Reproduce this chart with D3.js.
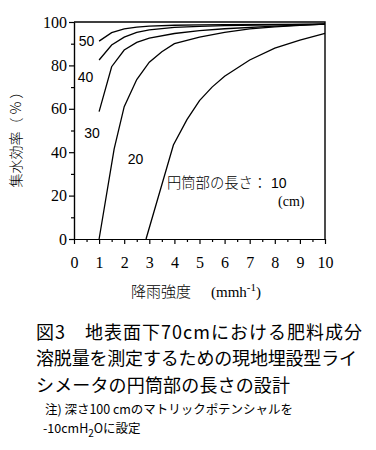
<!DOCTYPE html>
<html>
<head>
<meta charset="utf-8">
<script src="https://cdn.jsdelivr.net/npm/d3@7"></script>
<style>
  body { margin: 0; background: #fff; }
  svg { display: block; }
</style>
</head>
<body>
<script>
// 円筒部の長さ (cm) ごとの集水効率
let len50X = [1, 1.5, 2, 2.5, 3, 4, 5, 6, 8, 10]
let len50Y = [91.2, 95.1, 96.8, 97.6, 98.1, 98.5, 98.7, 98.8, 98.9, 99.0]
let len40X = [1, 1.5, 2, 2.5, 3, 4, 5, 6, 8, 10]
let len40Y = [82.5, 89.4, 93.0, 95.2, 96.4, 97.5, 98.0, 98.3, 98.7, 99.0]
let len30X = [1, 1.5, 2, 2.5, 3, 4, 5, 6, 8, 10]
let len30Y = [58.7, 79.4, 87.1, 90.6, 92.6, 94.7, 96.0, 96.9, 98.1, 99.0]
let len20X = [1, 1.6, 2, 2.5, 3, 3.5, 4, 5, 6, 7, 8, 9, 10]
let len20Y = [0, 41.5, 61, 73.5, 81.5, 86.3, 90, 93, 95.2, 96.8, 97.8, 98.4, 99.0]
let len10X = [2.87, 3.96, 4.5, 5, 5.5, 6, 7, 8, 9, 10]
let len10Y = [0, 43.3, 55, 63.8, 70, 75, 82.5, 88, 91.7, 94.8]

let xTicks = [0, 1, 2, 3, 4, 5, 6, 7, 8, 9, 10]
let yTicks = [0, 20, 40, 60, 80, 100]

let series = [
    {name: "50", xs: len50X, ys: len50Y},
    {name: "40", xs: len40X, ys: len40Y},
    {name: "30", xs: len30X, ys: len30Y},
    {name: "20", xs: len20X, ys: len20Y},
    {name: "10", xs: len10X, ys: len10Y}
]

let width = 376
let height = 450
let serif = "'Liberation Serif', 'Times New Roman', serif"
let sans = "'Liberation Sans', Arial, sans-serif"
let jp = "'Noto Sans CJK JP', sans-serif"

let svg = d3.select("body").append("svg")
    .attr("width", width)
    .attr("height", height)

let x = d3.scaleLinear().domain([0, 10]).range([74, 325])
let y = d3.scaleLinear().domain([0, 100]).range([239, 22])

//frame top + right
svg.append("path")
    .attr("d", `M${x(0)},${y(100)}H${x(10)}V${y(0)}`)
    .attr("fill", "none")
    .attr("stroke", "#000")
    .attr("stroke-width", 1.4)

//minor ticks
let yMinor = d3.axisLeft(y).tickValues(d3.range(10, 100, 20)).tickSize(3).tickFormat("").tickSizeOuter(0)
let xMinor = d3.axisBottom(x).tickValues(d3.range(0.5, 10, 1)).tickSize(3).tickFormat("").tickSizeOuter(0)
svg.append("g").attr("transform", `translate(${x(0)},0)`).call(yMinor)
svg.append("g").attr("transform", `translate(0,${y(0)})`).call(xMinor)

let yAxis = d3.axisLeft(y).tickValues(yTicks).tickSize(5).tickPadding(2).tickSizeOuter(0)
let xAxis = d3.axisBottom(x).tickValues(xTicks).tickSize(5).tickPadding(13).tickSizeOuter(0)

let gy = svg.append("g").attr("transform", `translate(${x(0)},0)`).call(yAxis)
let gx = svg.append("g").attr("transform", `translate(0,${y(0)})`).call(xAxis)

svg.selectAll(".domain, .tick line").attr("stroke", "#000").attr("stroke-width", 1.2)
;[gx, gy].forEach(g => g.selectAll("text")
    .attr("fill", "#000")
    .style("font-family", serif)
    .style("font-size", "16px"))

//curves
let line = d3.line()
    .x(d => x(d[0]))
    .y(d => y(d[1]))

svg.selectAll(".curve")
    .data(series)
    .enter()
    .append("path")
    .attr("class", "curve")
    .attr("d", s => line(s.xs.map((v, i) => [v, s.ys[i]])))
    .attr("fill", "none")
    .attr("stroke", "#000")
    .attr("stroke-width", 1.3)

//curve labels
let labelPos = [[86.5, 41], [85.5, 76.5], [92, 133], [135.5, 158.5]]
labelPos.forEach((p, i) => {
    svg.append("text")
        .attr("x", p[0]).attr("y", p[1])
        .attr("dy", "0.36em")
        .attr("text-anchor", "middle")
        .style("font-family", sans)
        .style("font-size", "14px")
        .text(series[i].name)
})
svg.append("text")
    .attr("x", 167).attr("y", 188)
    .style("font-family", jp)
    .style("font-weight", 300)
    .style("font-size", "14.3px")
    .text("円筒部の長さ：")
svg.append("text")
    .attr("x", 271).attr("y", 188)
    .style("font-family", sans)
    .style("font-size", "14px")
    .text(series[4].name)
svg.append("text")
    .attr("x", 278).attr("y", 206)
    .style("font-family", serif)
    .style("font-size", "14px")
    .text("(cm)")

//axis titles
svg.append("text")
    .attr("transform", "translate(21,136) rotate(-90)")
    .attr("text-anchor", "middle")
    .style("font-family", jp)
    .style("font-weight", 300)
    .style("font-size", "14px")
    .text("集水効率（ % ）")

let xt = svg.append("text")
    .attr("y", 297)
    .style("font-size", "15px")
xt.append("tspan").attr("x", 131).style("font-family", jp).style("font-weight", 300).text("降雨強度")
xt.append("tspan").attr("x", 211).style("font-family", serif).text("(mmh")
xt.append("tspan").attr("dy", -6).style("font-family", serif).style("font-size", "11px").text("-1")
xt.append("tspan").attr("dy", 6).style("font-family", serif).text(")")

//caption
let caption = [
    {t: "図3　地表面下70cmにおける肥料成分", x: 36, y: 339, w: 326, s: 18},
    {t: "溶脱量を測定するための現地埋設型ライ", x: 36, y: 365, w: 321, s: 18},
    {t: "シメータの円筒部の長さの設計", x: 36, y: 392, w: 254, s: 18},
    {t: "注) 深さ100 cmのマトリックポテンシャルを", x: 45, y: 414, w: 248, s: 12.5}
]
caption.forEach(c => {
    svg.append("text")
        .attr("x", c.x).attr("y", c.y)
        .attr("textLength", c.w)
        .attr("lengthAdjust", "spacing")
        .style("font-family", jp)
        .style("font-size", c.s + "px")
        .text(c.t)
})
let last = svg.append("text")
    .attr("x", 43).attr("y", 433)
    .style("font-family", jp)
    .style("font-size", "12.5px")
last.append("tspan").text("-10cmH")
last.append("tspan").attr("dy", 4).style("font-size", "10px").text("2")
last.append("tspan").attr("dy", -4).text("Oに設定")
</script>
</body>
</html>
